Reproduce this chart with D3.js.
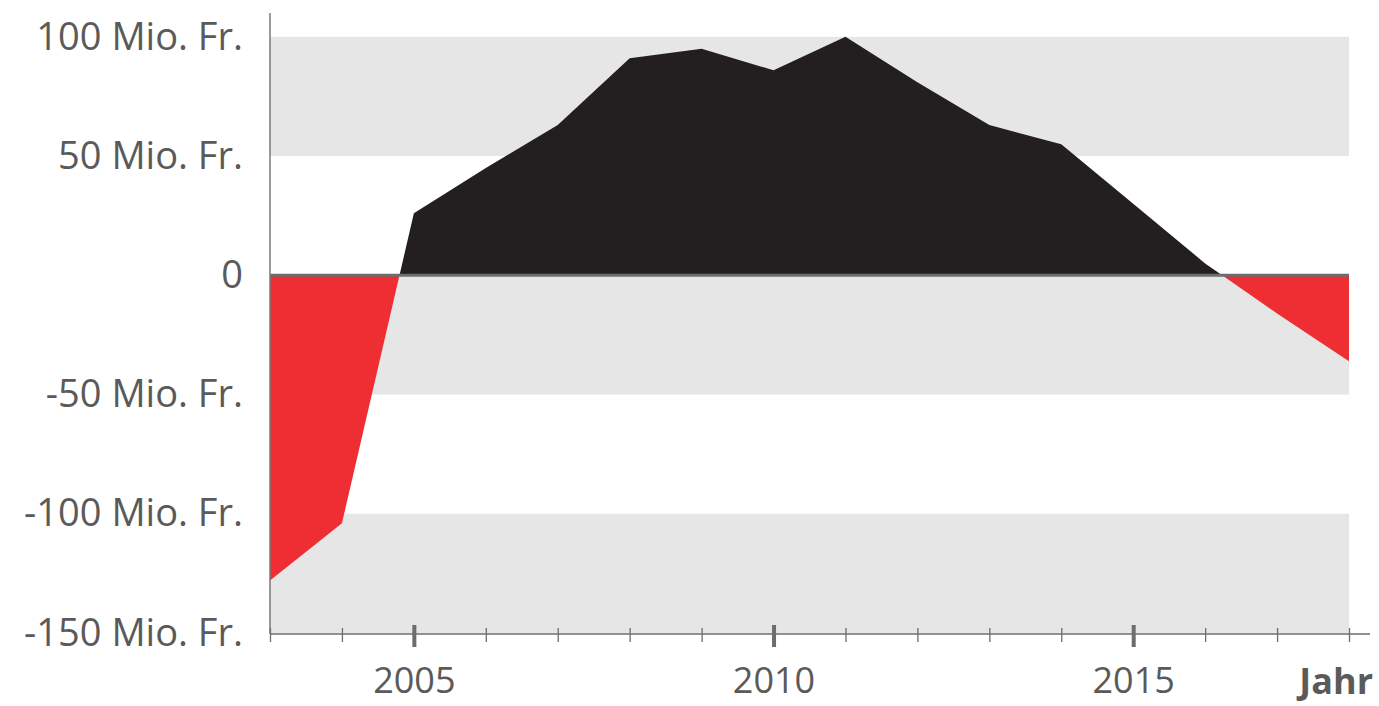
<!DOCTYPE html>
<html>
<head>
<meta charset="utf-8">
<script src="https://cdn.jsdelivr.net/npm/d3@7"></script>
<style>
  body { margin: 0; background: #fff; }
  svg { display: block; font-family: "Open Sans", sans-serif; }
</style>
</head>
<body>
<script>
// Saldo pro Jahr, Mio. Fr.
var years = [2003, 2004, 2005, 2006, 2007, 2008, 2009, 2010, 2011, 2012, 2013, 2014, 2015, 2016, 2017, 2018]
var values = [-128, -104, 26, 45, 63, 91, 95, 86, 100, 81, 63, 55, 30, 5, -16, -36]

var yTicks = [100, 50, 0, -50, -100, -150]
var yTickLabels = ['100 Mio. Fr.', '50 Mio. Fr.', '0', '-50 Mio. Fr.', '-100 Mio. Fr.', '-150 Mio. Fr.']
var majorYears = [2005, 2010, 2015]
var bands = [[50, 100], [-50, 0], [-150, -100]]  // grey stripes

var width = 1379
var height = 706
var margin = {left: 270, right: 30, top: 13, bottom: 73}
var plotRight = 1349

var x = d3.scaleLinear()
  .domain([2003, 2018])
  .range([margin.left, plotRight])

var y = d3.scaleLinear()
  .domain([-150, 110])
  .range([height - margin.bottom, margin.top])

var svg = d3.select('body').append('svg')
  .attr('width', width)
  .attr('height', height)

// stripes
svg.append('g').selectAll('rect')
  .data(bands)
  .join('rect')
  .attr('x', x(2003))
  .attr('width', x(2018) - x(2003))
  .attr('y', d => y(d[1]))
  .attr('height', d => y(d[0]) - y(d[1]))
  .attr('fill', '#e6e6e6')

// clip above / below zero so one area gets two colours
var defs = svg.append('defs')
defs.append('clipPath').attr('id', 'above')
  .append('rect')
  .attr('x', 0).attr('y', 0)
  .attr('width', width).attr('height', y(0))
defs.append('clipPath').attr('id', 'below')
  .append('rect')
  .attr('x', 0).attr('y', y(0))
  .attr('width', width).attr('height', height - y(0))

var area = d3.area()
  .x((d, i) => x(years[i]))
  .y0(y(0))
  .y1(d => y(d))

svg.append('path')
  .attr('d', area(values))
  .attr('fill', '#231f20')
  .attr('clip-path', 'url(#above)')

svg.append('path')
  .attr('d', area(values))
  .attr('fill', '#ee2e33')
  .attr('clip-path', 'url(#below)')

// zero line
svg.append('line')
  .attr('x1', x(2003)).attr('x2', x(2018))
  .attr('y1', y(0)).attr('y2', y(0))
  .attr('stroke', '#6d6d6d')
  .attr('stroke-width', 3)

// y axis
var yAxis = d3.axisLeft(y)
  .tickValues(yTicks)
  .tickFormat((d, i) => yTickLabels[i])
  .tickSize(0)
  .tickPadding(27)

var gy = svg.append('g')
  .attr('transform', `translate(${margin.left},0)`)
  .call(yAxis)
gy.select('.domain')
  .attr('stroke', '#7a7a7a')
  .attr('stroke-width', 1.5)
  .attr('d', `M0,${margin.top}V${y(-150) + 1}`)
gy.selectAll('text')
  .attr('fill', '#5a5a5a')
  .attr('font-size', 38)
  .attr('font-family', '"Open Sans", sans-serif')

// x axis: minor ticks every year, heavy ticks every 5
var baseY = y(-150) + 1
var xAxis = d3.axisBottom(x)
  .tickValues(years)
  .tickSize(0)
  .tickFormat(d => majorYears.includes(d) ? d : '')
  .tickPadding(33)

var gx = svg.append('g')
  .attr('transform', `translate(0,${baseY})`)
  .call(xAxis)
gx.select('.domain')
  .attr('stroke', '#6d6d6d')
  .attr('stroke-width', 1.5)
  .attr('d', `M${margin.left},0H1370`)
gx.selectAll('.tick line')
  .attr('stroke', '#6d6d6d')
  .attr('stroke-width', d => majorYears.includes(d) ? 4 : 1.3)
  .attr('y1', d => majorYears.includes(d) ? -9 : -6)
  .attr('y2', d => majorYears.includes(d) ? 13 : 8)
gx.selectAll('text')
  .attr('fill', '#5a5a5a')
  .attr('font-size', 36)
  .attr('font-family', '"Open Sans", sans-serif')

svg.append('text')
  .attr('x', 1373)
  .attr('y', 694)
  .attr('text-anchor', 'end')
  .attr('font-size', 36)
  .attr('font-weight', 'bold')
  .attr('fill', '#5a5a5a')
  .text('Jahr')
</script>
</body>
</html>
